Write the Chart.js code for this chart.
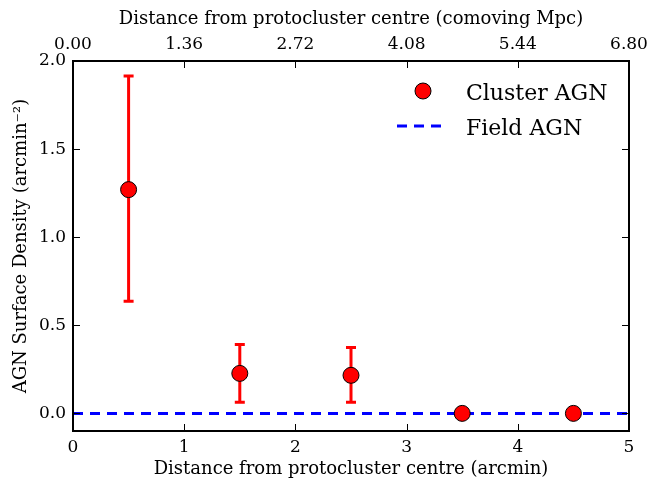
<!DOCTYPE html>
<html>
<head>
<meta charset="utf-8">
<script src="https://cdn.jsdelivr.net/npm/chart.js@4.4.1/dist/chart.umd.min.js"></script>
<style>
  html, body { margin: 0; padding: 0; background: #fff; }
</style>
</head>
<body>
<canvas id="chart-agn-density" width="652" height="481"></canvas>
<script>
// AGN surface density vs. radius from the protocluster centre
const radiusArcmin = [0.5, 1.5, 2.5, 3.5, 4.5];
const clusterDensity = [1.27, 0.227, 0.216, 0.0, 0.0];
const clusterErrLow = [0.636, 0.063, 0.063, null, null];
const clusterErrHigh = [1.915, 0.391, 0.374, null, null];

const fieldRadius = [0, 5];
const fieldDensity = [0.0, 0.0];

const arcminTicks = [0, 1, 2, 3, 4, 5];
const mpcTicks = [0.00, 1.36, 2.72, 4.08, 5.44, 6.80];
const densityTicks = [0.0, 0.5, 1.0, 1.5, 2.0];

const FONT = "'DejaVu Serif', serif";

const clusterPoints = radiusArcmin.map((x, i) => ({ x: x, y: clusterDensity[i] }));
const fieldPoints = fieldRadius.map((x, i) => ({ x: x, y: fieldDensity[i] }));

const setTicks = (values) => (scale) => {
    scale.ticks = values.map(v => ({ value: v }));
};

// fixed axis box sizes, no extra edge padding for overhanging labels
const fixHeight = (h) => (s) => { s.height = h; s.paddingLeft = 0; s.paddingRight = 0; };
const fixWidth = (w) => (s) => { s.width = w; s.paddingTop = 0; s.paddingBottom = 0; };

// error bars, frame, inward ticks and the legend box
const decorations = {
    id: 'decorations',
    beforeDatasetsDraw(chart) {
        const { ctx, scales: { x, y } } = chart;
        ctx.save();
        ctx.strokeStyle = '#ff0000';
        ctx.lineWidth = 3;
        radiusArcmin.forEach((r, i) => {
            if (clusterErrLow[i] == null) return;
            const px = x.getPixelForValue(r);
            const lo = y.getPixelForValue(clusterErrLow[i]);
            const hi = y.getPixelForValue(clusterErrHigh[i]);
            ctx.beginPath();
            ctx.moveTo(px, lo);
            ctx.lineTo(px, hi);
            ctx.moveTo(px - 5, lo);
            ctx.lineTo(px + 5, lo);
            ctx.moveTo(px - 5, hi);
            ctx.lineTo(px + 5, hi);
            ctx.stroke();
        });
        ctx.restore();
    },
    afterDraw(chart) {
        const { ctx, chartArea: a, scales: { x, x2, y } } = chart;
        ctx.save();
        const tick = 7;
        ctx.strokeStyle = '#000';
        ctx.lineWidth = 1;
        ctx.beginPath();
        arcminTicks.forEach(v => {
            const px = Math.round(x.getPixelForValue(v)) + 0.5;
            ctx.moveTo(px, a.bottom);
            ctx.lineTo(px, a.bottom - tick);
        });
        mpcTicks.forEach(v => {
            const px = Math.round(x2.getPixelForValue(v)) + 0.5;
            ctx.moveTo(px, a.top);
            ctx.lineTo(px, a.top + tick);
        });
        densityTicks.forEach(v => {
            const py = Math.round(y.getPixelForValue(v)) + 0.5;
            ctx.moveTo(a.left, py);
            ctx.lineTo(a.left + tick, py);
            ctx.moveTo(a.right, py);
            ctx.lineTo(a.right - tick, py);
        });
        ctx.stroke();

        ctx.lineWidth = 2;
        ctx.strokeRect(a.left, a.top, a.right - a.left, a.bottom - a.top);

        // legend
        ctx.font = '22px ' + FONT;
        ctx.textBaseline = 'alphabetic';
        ctx.textAlign = 'left';

        ctx.beginPath();
        ctx.arc(423, 91, 8, 0, Math.PI * 2);
        ctx.fillStyle = '#ff0000';
        ctx.fill();
        ctx.lineWidth = 1;
        ctx.strokeStyle = '#000';
        ctx.stroke();

        ctx.beginPath();
        ctx.setLineDash([10, 7]);
        ctx.strokeStyle = '#0000ff';
        ctx.lineWidth = 3;
        ctx.moveTo(397, 126);
        ctx.lineTo(448, 126);
        ctx.stroke();
        ctx.setLineDash([]);

        ctx.fillStyle = '#000';
        ctx.fillText('Cluster AGN', 466, 100);
        ctx.fillText('Field AGN', 466, 135);
        ctx.restore();
    }
};

const tickFont = { family: FONT, size: 17 };
const titleFont = { family: FONT, size: 18 };

new Chart(document.getElementById('chart-agn-density'), {
    type: 'scatter',
    data: {
        datasets: [
            {
                label: 'Field AGN',
                type: 'line',
                data: fieldPoints,
                borderColor: '#0000ff',
                borderWidth: 3,
                borderDash: [10, 7],
                pointRadius: 0,
                fill: false,
                order: 2
            },
            {
                label: 'Cluster AGN',
                data: clusterPoints,
                backgroundColor: '#ff0000',
                borderColor: '#000000',
                borderWidth: 1,
                pointRadius: 8,
                order: 1
            }
        ]
    },
    options: {
        responsive: false,
        animation: false,
        layout: { padding: { left: 0, right: 23, top: 0, bottom: 0 } },
        plugins: {
            legend: { display: false },
            tooltip: { enabled: false }
        },
        scales: {
            x: {
                type: 'linear',
                position: 'bottom',
                min: 0,
                max: 5,
                afterBuildTicks: setTicks(arcminTicks),
                afterFit: fixHeight(50),
                grid: { display: false, drawTicks: false },
                border: { display: false },
                ticks: {
                    color: '#000',
                    padding: 6,
                    font: tickFont,
                    callback: (v) => String(v)
                },
                title: {
                    display: true,
                    text: 'Distance from protocluster centre (arcmin)',
                    color: '#000',
                    font: titleFont,
                    padding: { top: 0, bottom: 1 }
                }
            },
            x2: {
                type: 'linear',
                position: 'top',
                min: 0,
                max: 6.8,
                afterBuildTicks: setTicks(mpcTicks),
                afterFit: fixHeight(61),
                grid: { display: false, drawTicks: false },
                border: { display: false },
                ticks: {
                    color: '#000',
                    padding: 6,
                    font: tickFont,
                    callback: (v) => v.toFixed(2)
                },
                title: {
                    display: true,
                    text: 'Distance from protocluster centre (comoving Mpc)',
                    color: '#000',
                    font: titleFont,
                    padding: { top: 9, bottom: 0 }
                }
            },
            y: {
                type: 'linear',
                position: 'left',
                min: -0.1,
                max: 2.0,
                afterBuildTicks: setTicks(densityTicks),
                afterFit: fixWidth(73),
                grid: { display: false, drawTicks: false },
                border: { display: false },
                ticks: {
                    color: '#000',
                    padding: 7,
                    font: tickFont,
                    callback: (v) => v.toFixed(1)
                },
                title: {
                    display: true,
                    text: 'AGN Surface Density (arcmin\u207B\u00B2)',
                    color: '#000',
                    font: titleFont,
                    padding: { top: 11, bottom: 0 }
                }
            }
        }
    },
    plugins: [decorations]
});
</script>
</body>
</html>
